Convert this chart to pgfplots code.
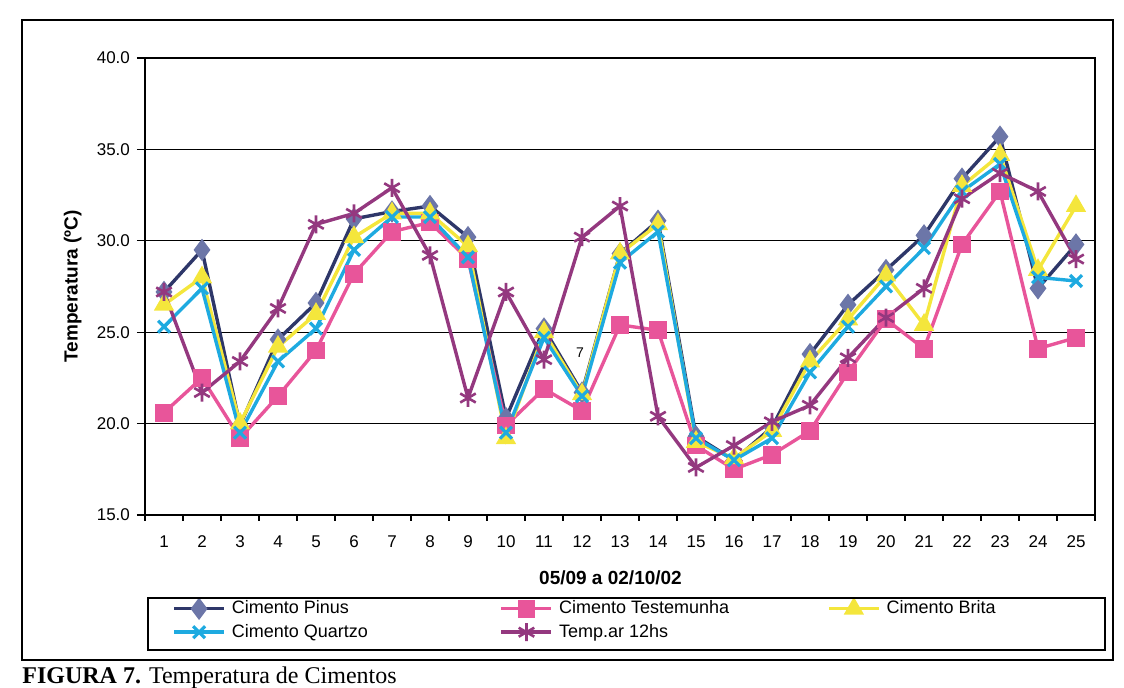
\documentclass[border=0pt]{standalone}
\usepackage{fontspec}
\setmainfont{Liberation Sans}
\newfontfamily\capfont{Liberation Serif}
\usepackage{pgfplots}
\pgfplotsset{compat=1.18}

\definecolor{pinusln}{HTML}{2E3769}
\definecolor{pinusmk}{HTML}{6C76A8}
\definecolor{testem}{HTML}{E8559A}
\definecolor{brita}{HTML}{F4E63C}
\definecolor{quartzo}{HTML}{1EAAE0}
\definecolor{tempar}{HTML}{94387F}

\begin{document}
\begin{tikzpicture}
\begin{axis}[
  name=a,
  scale only axis,
  width=475pt, height=228.5pt,
  xmin=0.5, xmax=25.5,
  ymin=15, ymax=40,
  xtick={1,...,25},
  major x tick style={draw=none},
  minor xtick={0.5,1.5,...,25.5},
  minor tick length=3pt,
  ytick={15,20,...,40},
  major tick length=4pt,
  tick align=outside,
  tick pos=left,
  ymajorgrids,
  grid style={black, line width=0.5pt},
  axis line style={black, line width=0.7pt},
  tick style={black, line width=0.6pt},
  yticklabel style={/pgf/number format/fixed, /pgf/number format/fixed zerofill,
    /pgf/number format/precision=1, font=\fontsize{8.5}{10}\selectfont},
  xticklabel style={font=\fontsize{8.5}{10}\selectfont, anchor=base, yshift=-12.5pt},
  /pgf/number format/assume math mode=true,
  xlabel={\bfseries 05/09 a 02/10/02},
  ylabel={\bfseries Temperatura (ºC)},
  every axis x label/.style={at={(axis description cs:0.49,-0.138)}, anchor=center,
    font=\fontsize{9.5}{11}\selectfont},
  every axis y label/.style={at={(axis description cs:-0.076,0.5)}, anchor=center,
    rotate=90, font=\fontsize{9.5}{11}\selectfont},
  clip=false,
  legend columns=3,
  legend style={draw=none, fill=none, at={(axis description cs:0.0284,-0.186)},
    anchor=north west, inner sep=0pt, column sep=0pt, row sep=3pt,
    font=\fontsize{9}{10.5}\selectfont, nodes={inner sep=0pt, anchor=west}},
  legend image code/.code={%
    \draw[mark repeat=2, mark phase=2] plot coordinates {(0pt,0pt) (12.5pt,0pt) (25pt,0pt)};},
  every axis plot/.append style={line width=1.7pt},
]
% Cimento Pinus
\addplot[pinusln, mark=diamond*, mark size=4.2pt,
  mark options={solid, fill=pinusmk, draw=pinusmk}] coordinates {
(1,27.2) (2,29.5) (3,19.9) (4,24.6) (5,26.6) (6,31.2) (7,31.6) (8,31.9) (9,30.2) (10,20.3)
(11,25.2) (12,21.7) (13,29.3) (14,31.1) (15,19.3) (16,18.0) (17,19.8) (18,23.8) (19,26.5) (20,28.4)
(21,30.3) (22,33.4) (23,35.7) (24,27.4) (25,29.8)};
\addlegendentry{\hspace{3pt}\makebox[134pt][l]{Cimento Pinus}}
% Cimento Testemunha
\addplot[testem, mark=square*, mark size=3.6pt,
  mark options={solid, fill=testem, draw=testem}] coordinates {
(1,20.6) (2,22.5) (3,19.2) (4,21.5) (5,24.0) (6,28.2) (7,30.5) (8,31.0) (9,29.0) (10,19.9)
(11,21.9) (12,20.7) (13,25.4) (14,25.1) (15,18.8) (16,17.5) (17,18.3) (18,19.6) (19,22.8) (20,25.7)
(21,24.1) (22,29.8) (23,32.7) (24,24.1) (25,24.7)};
\addlegendentry{\hspace{3pt}\makebox[134pt][l]{Cimento Testemunha}}
% Cimento Brita
\addplot[brita, mark=triangle*, mark size=4.2pt,
  mark options={solid, fill=brita, draw=brita}] coordinates {
(1,26.5) (2,28.0) (3,20.0) (4,24.2) (5,26.0) (6,30.2) (7,31.5) (8,31.5) (9,29.7) (10,19.2)
(11,25.0) (12,21.6) (13,29.3) (14,30.9) (15,19.0) (16,18.1) (17,19.6) (18,23.4) (19,25.7) (20,28.1)
(21,25.4) (22,33.0) (23,34.7) (24,28.4) (25,31.9)};
\addlegendentry{\hspace{3pt}Cimento Brita}
% Cimento Quartzo
\addplot[quartzo, mark=x, mark size=4.2pt,
  mark options={solid, line width=1.6pt}] coordinates {
(1,25.3) (2,27.4) (3,19.5) (4,23.4) (5,25.2) (6,29.5) (7,31.3) (8,31.3) (9,29.1) (10,19.5)
(11,24.7) (12,21.5) (13,28.8) (14,30.5) (15,19.2) (16,18.0) (17,19.2) (18,22.8) (19,25.3) (20,27.5)
(21,29.6) (22,32.7) (23,34.2) (24,28.0) (25,27.8)};
\addlegendentry{\hspace{3pt}\makebox[134pt][l]{Cimento Quartzo}}
% Temp.ar 12hs
\addplot[tempar, mark=asterisk, mark size=4.5pt,
  mark options={solid, line width=1.3pt}] coordinates {
(1,27.2) (2,21.7) (3,23.4) (4,26.3) (5,30.9) (6,31.5) (7,32.9) (8,29.2) (9,21.4) (10,27.2)
(11,23.5) (12,30.2) (13,31.9) (14,20.4) (15,17.6) (16,18.8) (17,20.1) (18,21.0) (19,23.6) (20,25.8)
(21,27.4) (22,32.3) (23,33.7) (24,32.7) (25,29.0)};
\addlegendentry{\hspace{3pt}\makebox[134pt][l]{Temp.ar 12hs}}
% stray label in the original figure
\node[font=\fontsize{7}{8}\selectfont] at (axis cs:11.95,23.9) {7};
\end{axis}
% legend frame and outer chart frame
\draw[line width=0.7pt] ([shift={(1.5pt,-41.5pt)}]a.south west) rectangle ([shift={(480pt,-67.5pt)}]a.south west);
\draw[line width=0.8pt] ([shift={(-61.5pt,-72.5pt)}]a.south west) rectangle ([shift={(484pt,247.5pt)}]a.south west);
% caption at the bottom edge, as in the scan
\node[anchor=base west, inner sep=0pt, font=\capfont\fontsize{12}{14}\selectfont]
  at ([shift={(-61.5pt,-84.5pt)}]a.south west) {\textbf{FIGURA 7.} Temperatura de Cimentos};
\pgfresetboundingbox
\path[use as bounding box] ([shift={(-72.5pt,-86.5pt)}]a.south west) rectangle ([shift={(489.5pt,257.5pt)}]a.south west);
\end{tikzpicture}
\end{document}
